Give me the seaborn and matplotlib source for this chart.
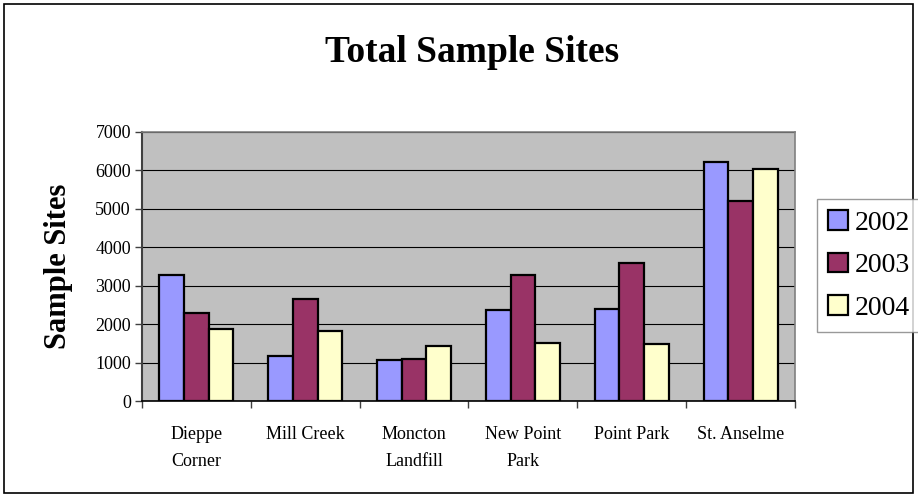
import matplotlib
matplotlib.use('Agg')
import matplotlib.pyplot as plt
import seaborn as sns
import pandas as pd
from matplotlib.patches import Rectangle

sites = ["Dieppe\nCorner", "Mill Creek", "Moncton\nLandfill", "New Point\nPark", "Point Park", "St. Anselme"]
years = ["2002", "2003", "2004"]
vals_2002 = [3290, 1175, 1060, 2375, 2390, 6215]
vals_2003 = [2300, 2650, 1095, 3280, 3580, 5215]
vals_2004 = [1880, 1830, 1435, 1505, 1485, 6045]
colors = ["#9999FF", "#993366", "#FFFFCC"]

rows = []
for yr, vals in zip(years, [vals_2002, vals_2003, vals_2004]):
    for s, v in zip(sites, vals):
        rows.append({"site": s, "year": yr, "sites": v})
df = pd.DataFrame(rows)

sns.set_style("white")
plt.rcParams['font.family'] = ['Liberation Serif', 'DejaVu Serif']
plt.rcParams['text.color'] = 'black'
plt.rcParams['xtick.color'] = 'black'
plt.rcParams['ytick.color'] = 'black'
plt.rcParams['axes.labelcolor'] = 'black'

fig = plt.figure(figsize=(9.18, 4.95), dpi=100)
ax = fig.add_axes([142/918, 1 - 401/495, (795-142)/918, (401-132)/495])

sns.barplot(data=df, x="site", y="sites", hue="year", palette=colors, saturation=1,
            width=0.68, edgecolor="black", linewidth=1.6, ax=ax, zorder=3)

ax.set_facecolor("#C0C0C0")
ax.set_ylim(0, 7000)
ax.set_xlim(-0.5, 5.5)
ax.set_yticks(range(0, 7001, 1000))
ax.yaxis.grid(True, color="black", linewidth=0.8, zorder=1)
ax.set_axisbelow(True)

for side in ["top", "right"]:
    ax.spines[side].set_color("#808080")
    ax.spines[side].set_linewidth(1.2)
ax.spines["left"].set_color("#404040")
ax.spines["left"].set_linewidth(1.5)
ax.spines["bottom"].set_color("black")
ax.spines["bottom"].set_linewidth(1.2)

# category boundary ticks on x, labels centered between
ax.set_xticks([i - 0.5 for i in range(7)], minor=False)
ax.set_xticklabels([])
ax.set_xticks(range(6), minor=True)
ax.set_xticklabels(sites, minor=True, fontsize=13, linespacing=1.75)
ax.tick_params(axis="x", which="major", direction="out", length=5, width=1, color="#404040", bottom=True)
ax.tick_params(axis="x", which="minor", length=0, pad=18)
ax.tick_params(axis="y", direction="out", length=5, width=1, color="#404040", left=True, labelsize=13, pad=3)

ax.set_xlabel("")
ax.set_ylabel("Sample Sites", fontsize=22, fontweight="bold")
ax.yaxis.set_label_coords(-0.105, 0.5)

fig.text(472/918, 1 - 52/495, "Total Sample Sites", fontsize=27, fontweight="bold",
         ha="center", va="center")

handles, labels = ax.get_legend_handles_labels()
ax.legend_.remove()
leg = fig.legend(handles, labels, loc="upper left", bbox_to_anchor=(817/918, 1 - 199/495),
                 fontsize=20, frameon=True, fancybox=False, edgecolor="#808080",
                 handlelength=0.7, handleheight=0.7, handletextpad=0.25,
                 labelspacing=0.62, borderpad=0.4, borderaxespad=0)
leg.get_frame().set_linewidth(1.0)

fig.patches.append(Rectangle((4/918, 2/495), 909/918, 489/495, transform=fig.transFigure,
                             fill=False, edgecolor="black", linewidth=1.2))

fig.savefig("out.png", dpi=100)
